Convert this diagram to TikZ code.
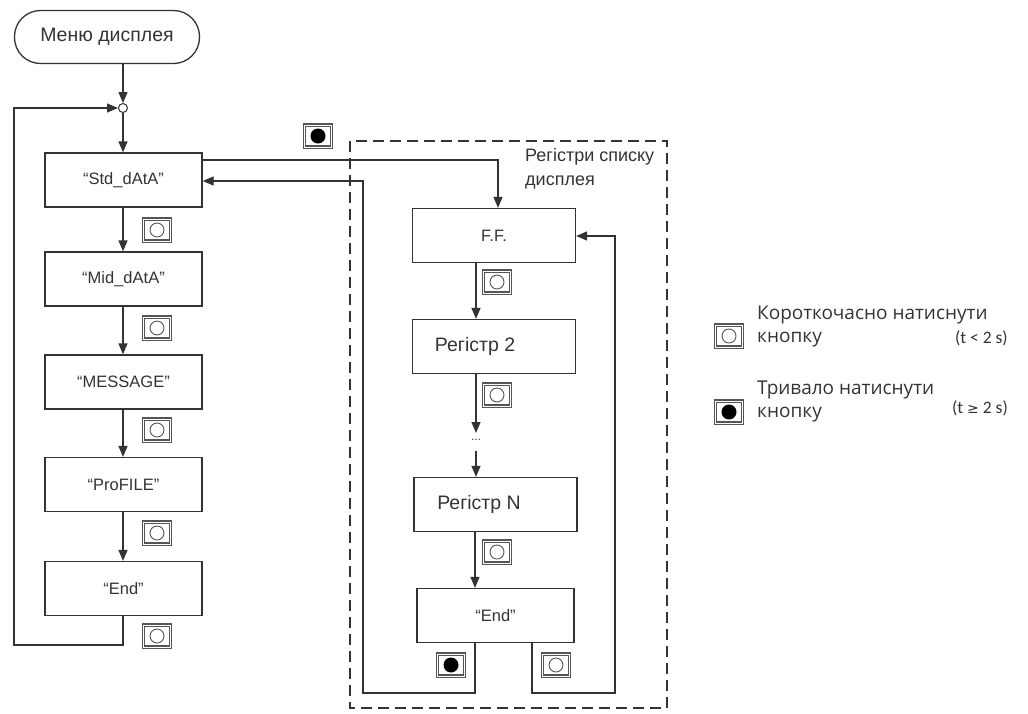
\documentclass[tikz,border=0pt]{standalone}
\usepackage{fontspec}
\setmainfont{Liberation Sans}
\newfontfamily\legfont{Open Sans}
\newfontfamily\smfont{Carlito}
\newfontfamily\dvfont{DejaVu Sans}
\usetikzlibrary{arrows.meta,calc}
\definecolor{ln}{HTML}{333333}
\definecolor{bt}{HTML}{555555}
\tikzset{
  box/.style={draw=ln,line width=1.3pt,minimum width=157pt,minimum height=54pt,inner sep=0pt,font=\fontsize{16.5}{18}\selectfont,text=ln},
  rbox/.style={draw=ln,line width=1.3pt,minimum width=163pt,minimum height=54pt,inner sep=0pt,font=\fontsize{19.5}{22}\selectfont,text=ln},
  conn/.style={draw=ln,line width=1.3pt},
  arr/.style={conn,-{Triangle[length=11pt,width=9pt]}},
  sbtn/.style={draw=bt,line width=1.2pt,double=white,double distance=1pt,minimum width=27pt,minimum height=22pt,inner sep=0pt,
    path picture={\draw[bt,line width=0.9pt] (path picture bounding box.center) circle (7pt);}},
  lbtn/.style={draw=bt,line width=1.2pt,double=white,double distance=1pt,minimum width=27pt,minimum height=22pt,inner sep=0pt,
    path picture={\fill[black] (path picture bounding box.center) circle (7.5pt);}},
  legtxt/.style={anchor=west,inner sep=0pt,font=\legfont\fontsize{19}{22}\selectfont,text=ln},
  legsm/.style={anchor=east,inner sep=0pt,font=\smfont\fontsize{17.5}{18}\selectfont,text=ln},
}
\begin{document}
\begin{tikzpicture}[x=1pt,y=-1pt]
\useasboundingbox (0,0) rectangle (1028,713);
% start terminal
\node[draw=ln,line width=1.3pt,rounded corners=26pt,minimum width=185pt,minimum height=53pt,inner sep=0pt,font=\fontsize{19.5}{22}\selectfont,text=ln] (start) at (107,37) {Меню дисплея};
\node[draw=ln,line width=1pt,circle,minimum size=9pt,inner sep=0pt,fill=white] (jn) at (123,108) {};
% left column
\node[box] (std) at (123.5,180) {“Std\_dAtA”};
\node[box] (mid) at (123.5,279) {“Mid\_dAtA”};
\node[box] (msg) at (123.5,382) {“MESSAGE”};
\node[box] (prof) at (123.5,484.5) {“ProFILE”};
\node[box] (endl) at (123.5,588.5) {“End”};
\coordinate (cl) at (123,0);
\draw[arr] (start.south -| cl) -- (jn.north);
\draw[arr] (jn.south) -- (std.north -| cl);
\draw[arr] (std.south -| cl) -- (mid.north -| cl);
\draw[arr] (mid.south -| cl) -- (msg.north -| cl);
\draw[arr] (msg.south -| cl) -- (prof.north -| cl);
\draw[arr] (prof.south -| cl) -- (endl.north -| cl);
\coordinate (lb) at (123,645);
\coordinate (ll) at (14,645);
\coordinate (lt) at (14,108);
\draw[arr] (endl.south -| cl) -- (lb) -- (ll) -- (lt) -- (jn.west);
\node[sbtn] (b1) at (157,230) {};
\node[sbtn] (b2) at (157,328) {};
\node[sbtn] (b3) at (157,430) {};
\node[sbtn] (b4) at (157,533) {};
\node[sbtn] (b5) at (157,636) {};
% dashed group
\draw[ln,line width=1.2pt,dash pattern=on 11pt off 6pt] (350,141) rectangle (667,708);
\node[anchor=north west,align=left,font=\fontsize{18}{24}\selectfont,inner sep=0pt,text=ln] (grp) at (525,148) {Регістри списку\\дисплея};
\node[lbtn] (bl0) at (318,136) {};
% right column
\node[rbox,font=\fontsize{16.5}{18}\selectfont] (ff) at (494,235.5) {F.F.};
\node[rbox] (r2) at (494,346.5) {\hspace*{-38pt}Регістр 2};
\node[inner sep=0pt,font=\fontsize{12}{12}\selectfont,text=ln] (dots) at (476,440) {...};
\node[rbox] (rn) at (495.5,504.5) {\hspace*{-33pt}Регістр N};
\node[rbox,minimum width=157pt,font=\fontsize{16.5}{18}\selectfont] (endr) at (495.5,615.5) {“End”};
\coordinate (cr) at (476,0);
\draw[arr] (std.east |- 0,160) -- (498,160) -- (ff.north -| 498,0);
\draw[arr] (ff.south -| cr) -- (r2.north -| cr);
\draw[arr] (r2.south -| cr) -- (476,433);
\draw[arr] (476,451) -- (rn.north -| cr);
\draw[arr] (rn.south -| 475,0) -- (endr.north -| 475,0);
\node[sbtn] (b6) at (497,282) {};
\node[sbtn] (b7) at (497,395) {};
\node[sbtn] (b8) at (497,552) {};
\coordinate (q1) at (475,693);
\coordinate (q2) at (363,693);
\coordinate (q3) at (363,181);
\draw[arr] (endr.south -| 475,0) -- (q1) -- (q2) -- (q3) -- (std.east |- q3);
\coordinate (p1) at (532,693);
\coordinate (p2) at (615,693);
\coordinate (p3) at (615,236);
\draw[arr] (endr.south -| 532,0) -- (p1) -- (p2) -- (p3) -- (ff.east |- p3);
\node[lbtn] (bl1) at (451,665) {};
\node[sbtn] (b9) at (556,665) {};
% legend
\node[sbtn] (lg1) at (729,336) {};
\node[lbtn] (lg2) at (729,412) {};
\node[legtxt] (lt1) at (757,315) {Короткочасно натиснути};
\node[legtxt] (lt2) at (757,340) {кнопку};
\node[legsm] (lt3) at (1008,338) {(t < 2 s)};
\node[legtxt] (lt4) at (757,390) {Тривало натиснути};
\node[legtxt] (lt5) at (757,415) {кнопку};
\node[legsm] (lt6) at (1008,408) {(t {\dvfont\fontsize{14}{16}\selectfont ≥} 2 s)};
\end{tikzpicture}
\end{document}
